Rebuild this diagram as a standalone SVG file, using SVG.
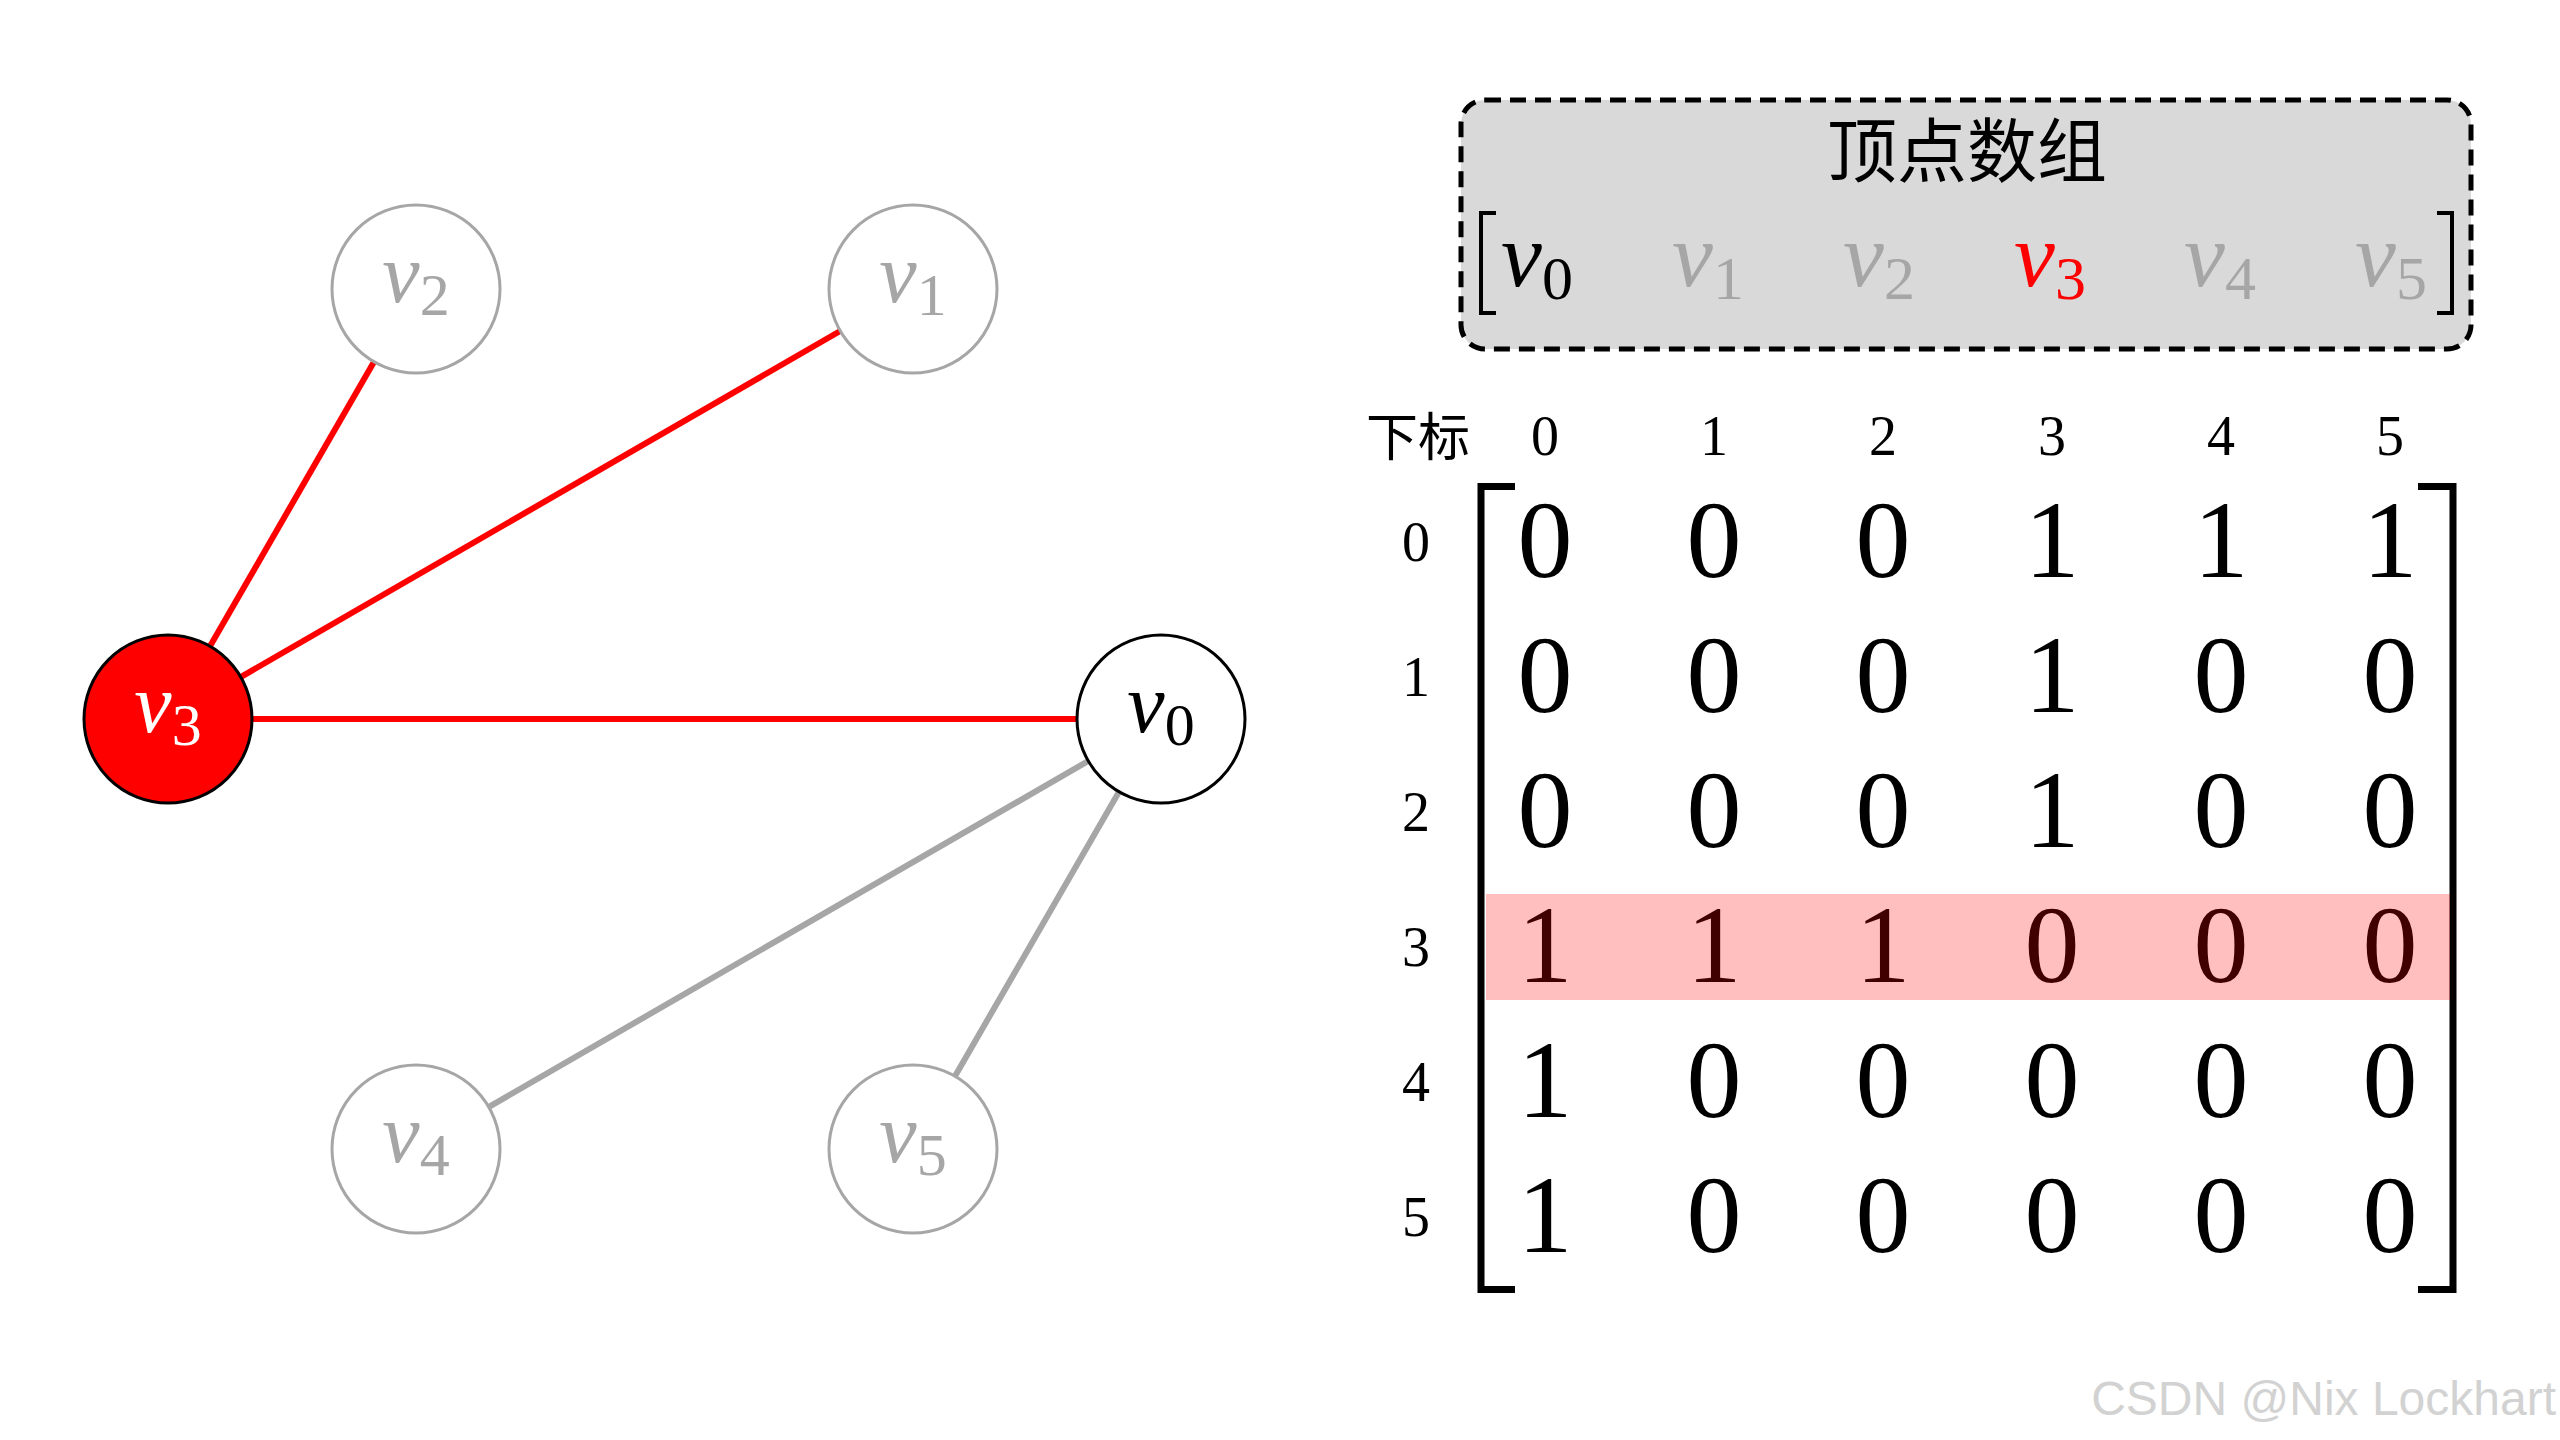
<svg xmlns="http://www.w3.org/2000/svg" width="2560" height="1440" viewBox="0 0 2560 1440">
<style>
.edge{stroke-width:6;fill:none}
.red{stroke:#ff0000}
.gray{stroke:#a6a6a6}
.node{stroke-width:3}
.math{font-family:"Liberation Serif","DejaVu Serif",serif}
.v{font-style:italic}
.nl{font-size:84px}
.ns{font-size:60px}
.al{font-size:92px}
.as{font-size:62px}
.cjk{font-family:"Liberation Serif","Noto Sans CJK SC",sans-serif}
.hd{font-size:56px}
.md{font-size:110px}
.br{fill:none;stroke:#000;stroke-linejoin:miter;stroke-linecap:butt}
</style>
<rect width="2560" height="1440" fill="#ffffff"/>
<g id="connectors">
<line class="edge red" x1="168" y1="719" x2="416" y2="289"/>
<line class="edge red" x1="168" y1="719" x2="913" y2="289"/>
<line class="edge red" x1="168" y1="719" x2="1161" y2="719"/>
<line class="edge gray" x1="1161" y1="719" x2="416" y2="1149"/>
<line class="edge gray" x1="1161" y1="719" x2="913" y2="1149"/>
</g>
<g id="node-v0">
<circle class="node" cx="1161" cy="719" r="84" fill="#ffffff" stroke="#000000"/>
<text class="math nl" x="1161" y="732" text-anchor="middle" fill="#000000"><tspan class="v">v</tspan><tspan class="ns" dy="13">0</tspan></text>
</g>
<g id="node-v1">
<circle class="node" cx="913" cy="289" r="84" fill="#ffffff" stroke="#a6a6a6"/>
<text class="math nl" x="913" y="302" text-anchor="middle" fill="#a6a6a6"><tspan class="v">v</tspan><tspan class="ns" dy="13">1</tspan></text>
</g>
<g id="node-v2">
<circle class="node" cx="416" cy="289" r="84" fill="#ffffff" stroke="#a6a6a6"/>
<text class="math nl" x="416" y="302" text-anchor="middle" fill="#a6a6a6"><tspan class="v">v</tspan><tspan class="ns" dy="13">2</tspan></text>
</g>
<g id="node-v3">
<circle class="node" cx="168" cy="719" r="84" fill="#ff0000" stroke="#000000"/>
<text class="math nl" x="168" y="732" text-anchor="middle" fill="#ffffff"><tspan class="v">v</tspan><tspan class="ns" dy="13">3</tspan></text>
</g>
<g id="node-v4">
<circle class="node" cx="416" cy="1149" r="84" fill="#ffffff" stroke="#a6a6a6"/>
<text class="math nl" x="416" y="1162" text-anchor="middle" fill="#a6a6a6"><tspan class="v">v</tspan><tspan class="ns" dy="13">4</tspan></text>
</g>
<g id="node-v5">
<circle class="node" cx="913" cy="1149" r="84" fill="#ffffff" stroke="#a6a6a6"/>
<text class="math nl" x="913" y="1162" text-anchor="middle" fill="#a6a6a6"><tspan class="v">v</tspan><tspan class="ns" dy="13">5</tspan></text>
</g>
<g id="vertex-array">
<rect x="1461" y="100" width="1010" height="249" rx="24" ry="24" fill="#d9d9d9" stroke="#000000" stroke-width="5" stroke-dasharray="16 9"/>
<text class="cjk" x="1967" y="177" font-size="70" text-anchor="middle" fill="#000000">顶点数组</text>
<path class="br" stroke-width="4" d="M1496,213 H1481 V313 H1496"/>
<path class="br" stroke-width="4" d="M2437,213 H2452 V313 H2437"/>
<g class="math al" text-anchor="middle">
<text x="1537" y="286" fill="#000000"><tspan class="v">v</tspan><tspan class="as" dy="13">0</tspan></text>
<text x="1708" y="286" fill="#a6a6a6"><tspan class="v">v</tspan><tspan class="as" dy="13">1</tspan></text>
<text x="1879" y="286" fill="#a6a6a6"><tspan class="v">v</tspan><tspan class="as" dy="13">2</tspan></text>
<text x="2050" y="286" fill="#ff0000"><tspan class="v">v</tspan><tspan class="as" dy="13">3</tspan></text>
<text x="2220" y="286" fill="#a6a6a6"><tspan class="v">v</tspan><tspan class="as" dy="13">4</tspan></text>
<text x="2391" y="286" fill="#a6a6a6"><tspan class="v">v</tspan><tspan class="as" dy="13">5</tspan></text>
</g>
</g>
<g id="adjacency-matrix">
<text class="cjk" x="1366" y="456" font-size="52" fill="#000000">下标</text>
<g class="math hd" text-anchor="middle" fill="#000000">
<text x="1545" y="455">0</text>
<text x="1714" y="455">1</text>
<text x="1883" y="455">2</text>
<text x="2052" y="455">3</text>
<text x="2221" y="455">4</text>
<text x="2390" y="455">5</text>
<text x="1416" y="561">0</text>
<text x="1416" y="696">1</text>
<text x="1416" y="831">2</text>
<text x="1416" y="966">3</text>
<text x="1416" y="1101">4</text>
<text x="1416" y="1236">5</text>
</g>
<path class="br" stroke-width="7" d="M1515,486.5 H1481 V1289.5 H1515"/>
<path class="br" stroke-width="7" d="M2418,486.5 H2453 V1289.5 H2418"/>
<g class="math md" text-anchor="middle" fill="#000000">
<text y="577"><tspan x="1545">0</tspan><tspan x="1714">0</tspan><tspan x="1883">0</tspan><tspan x="2052">1</tspan><tspan x="2221">1</tspan><tspan x="2390">1</tspan></text>
<text y="712"><tspan x="1545">0</tspan><tspan x="1714">0</tspan><tspan x="1883">0</tspan><tspan x="2052">1</tspan><tspan x="2221">0</tspan><tspan x="2390">0</tspan></text>
<text y="847"><tspan x="1545">0</tspan><tspan x="1714">0</tspan><tspan x="1883">0</tspan><tspan x="2052">1</tspan><tspan x="2221">0</tspan><tspan x="2390">0</tspan></text>
<text y="982"><tspan x="1545">1</tspan><tspan x="1714">1</tspan><tspan x="1883">1</tspan><tspan x="2052">0</tspan><tspan x="2221">0</tspan><tspan x="2390">0</tspan></text>
<text y="1117"><tspan x="1545">1</tspan><tspan x="1714">0</tspan><tspan x="1883">0</tspan><tspan x="2052">0</tspan><tspan x="2221">0</tspan><tspan x="2390">0</tspan></text>
<text y="1252"><tspan x="1545">1</tspan><tspan x="1714">0</tspan><tspan x="1883">0</tspan><tspan x="2052">0</tspan><tspan x="2221">0</tspan><tspan x="2390">0</tspan></text>
</g>
<rect x="1486" y="894" width="964" height="106" fill="#ff0000" fill-opacity="0.25"/>
</g>
<text x="2556" y="1415" font-family="Liberation Sans, Arial, sans-serif" font-size="48" text-anchor="end" fill="#d2d2d2">CSDN @Nix Lockhart</text>
</svg>
